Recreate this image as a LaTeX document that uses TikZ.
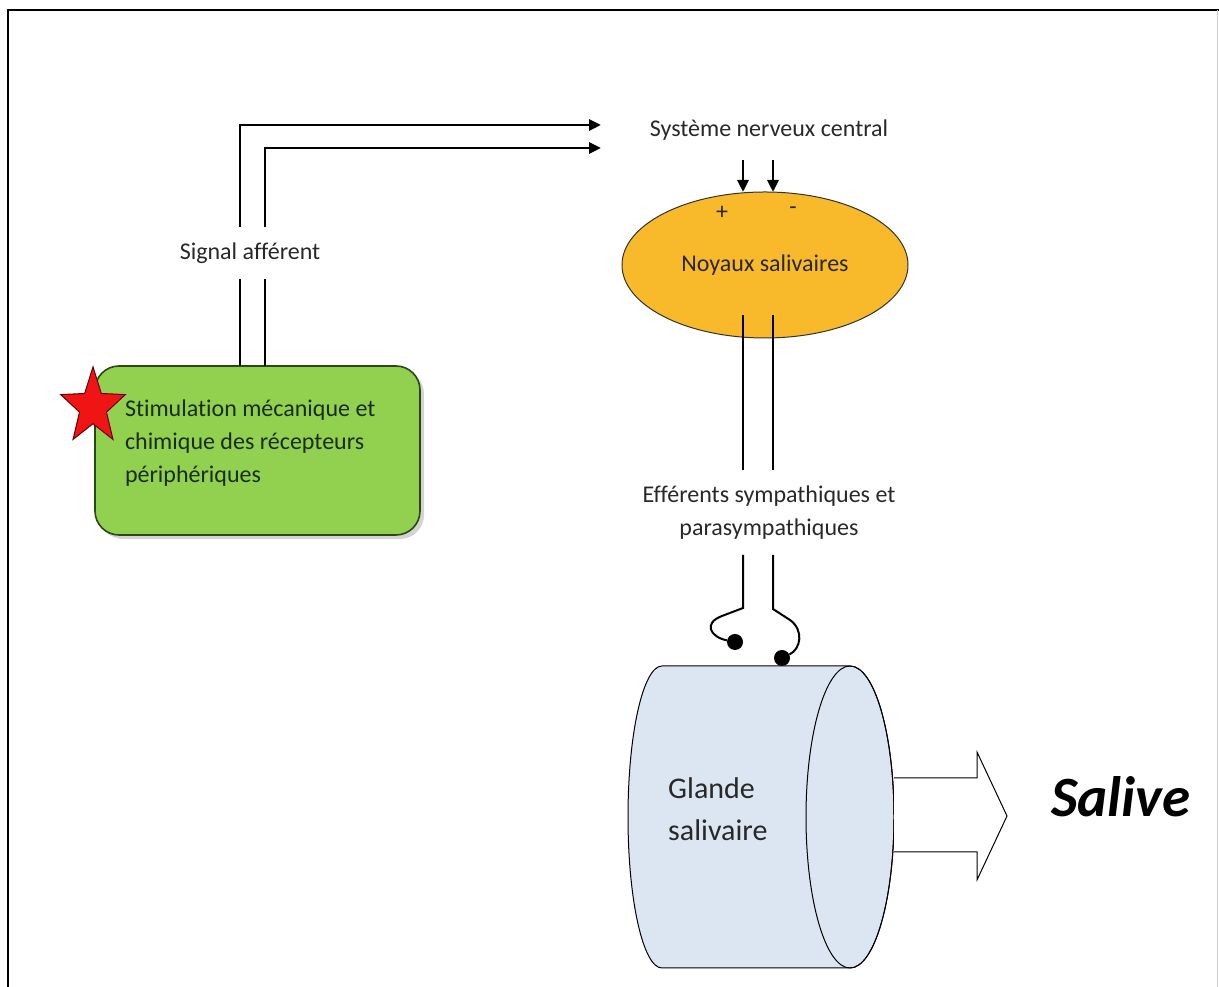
\documentclass[tikz,border=0pt]{standalone}
\usepackage{fontspec}
\setmainfont{Carlito}[Ligatures=NoCommon]
\usepackage{tikz}
\usetikzlibrary{shapes.geometric,arrows.meta,shadows,calc}
\definecolor{stimgreen}{RGB}{146,208,80}
\definecolor{stimborder}{RGB}{45,70,25}
\definecolor{stimtext}{RGB}{25,45,15}
\definecolor{nucleusorange}{RGB}{248,185,42}
\definecolor{glandblue}{RGB}{220,230,242}
\definecolor{sparkred}{RGB}{240,20,20}
\definecolor{labelink}{RGB}{40,40,40}
\definecolor{framegray}{RGB}{205,205,205}
\newcommand{\lblfont}{\fontsize{24}{33}\selectfont}

\begin{document}
\begin{tikzpicture}[x=1pt, y=1pt,
    nerve/.style={line width=2.9pt},
    nerve arrow/.style={nerve, -{Triangle[length=12pt,width=11pt]}},
    txt/.style={font=\lblfont, text=labelink, inner sep=0pt, outer sep=0pt},
    stimbox/.style={rectangle, rounded corners=24pt, fill=stimgreen, draw=stimborder,
        line width=1.6pt, minimum width=325pt, minimum height=169pt, inner sep=0pt, outer sep=0pt,
        drop shadow={shadow xshift=4pt, shadow yshift=-4pt, opacity=0.35}},
    sparkstar/.style={star, star points=5, star point ratio=2.4, fill=sparkred,
        draw=red!40!black, line width=1pt, minimum size=68pt, inner sep=0pt},
    nucleus/.style={ellipse, fill=nucleusorange, draw=black!80, line width=1pt,
        minimum width=286pt, minimum height=146pt, inner sep=0pt, outer sep=0pt,
        font=\lblfont, text=labelink},
    synapse/.style={circle, fill=black, minimum size=16pt, inner sep=0pt}]
    \useasboundingbox (0,0) rectangle (1219,987);

    % Frame
    \draw[line width=2.5pt] (8,0) -- (8,977) -- (1219,977);
    \draw[framegray, line width=1pt] (1217.5,0) -- (1217.5,977);

    % Peripheral receptors
    \node[stimbox] (stim) at (257.5,536.5) {};
    \node[txt, text=stimtext, align=left, anchor=west] (stimlabel) at (125,544) {Stimulation mécanique et\\chimique des récepteurs\\périphériques};
    \node[sparkstar, yscale=1.18, transform shape] (spark) at (93,580) {};

    % Afferent signal
    \node[txt, minimum height=52pt] (afferent) at (250,734) {Signal afférent};
    \coordinate (aff1) at (240,862);
    \coordinate (aff2) at (265,839);
    \coordinate (cnsin1) at (601,862);
    \coordinate (cnsin2) at (601,839);
    \draw[nerve] (stim.north -| aff1) -- (afferent.south -| aff1);
    \draw[nerve] (stim.north -| aff2) -- (afferent.south -| aff2);
    \draw[nerve arrow] (afferent.north -| aff1) -- (aff1) -- (cnsin1);
    \draw[nerve arrow] (afferent.north -| aff2) -- (aff2) -- (cnsin2);

    % Central nervous system
    \node[txt] (cns) at (769,857) {Système nerveux central};
    \node[nucleus] (noyaux) at (765,722) {Noyaux salivaires};
    \node[txt] (plus) at (722,774) {+};
    \node[txt] (minus) at (793,776) {-};
    \coordinate (cnsout1) at (743,827);
    \coordinate (cnsout2) at (773,827);
    \draw[nerve arrow] (cnsout1) -- (noyaux.north -| cnsout1);
    \draw[nerve arrow] (cnsout2) -- (noyaux.north -| cnsout2);

    % Efferents
    \node[txt, minimum height=85pt, align=center] (efferent) at (769,474.5) {Efférents sympathiques et\\parasympathiques};
    \coordinate (eff1) at (743,672);
    \coordinate (eff2) at (773,672);
    \draw[nerve] (eff1) -- (efferent.north -| eff1);
    \draw[nerve] (eff2) -- (efferent.north -| eff2);
    \node[synapse] (dot1) at (735,345) {};
    \node[synapse] (dot2) at (782,329) {};
    \draw[line width=2pt] (efferent.south -| eff1) -- (743,379) -- (722,371)
        .. controls (703,364) and (710,350) .. (dot1);
    \draw[line width=2pt] (efferent.south -| eff2) -- (773,378) -- (790,367)
        .. controls (804,357) and (801,338) .. (dot2);

    % Salivary gland
    \filldraw[fill=glandblue, draw=black, line width=1pt] (662,321) -- (850,321)
        arc[start angle=90, end angle=-90, x radius=44, y radius=151] -- (662,19)
        arc[start angle=270, end angle=90, x radius=34, y radius=151] -- cycle;
    \draw[line width=1pt] (850,170) ellipse [x radius=44, y radius=151];
    \node[font=\fontsize{30}{42}\selectfont, text=labelink, align=left, anchor=west, inner sep=0pt] (glande) at (668,178) {Glande\\salivaire};

    % Saliva output
    \node[font=\fontsize{57}{60}\selectfont\bfseries\itshape, inner sep=0pt] (salive) at (1121,190) {Salive};
    \coordinate (glandface) at (894,172);
    \draw[fill=white, line width=1pt] (glandface |- 0,209) -- (977,209) -- (977,235) -- (1007,171)
        -- (977,107) -- (977,135) -- (glandface |- 0,135);
\end{tikzpicture}
\end{document}
